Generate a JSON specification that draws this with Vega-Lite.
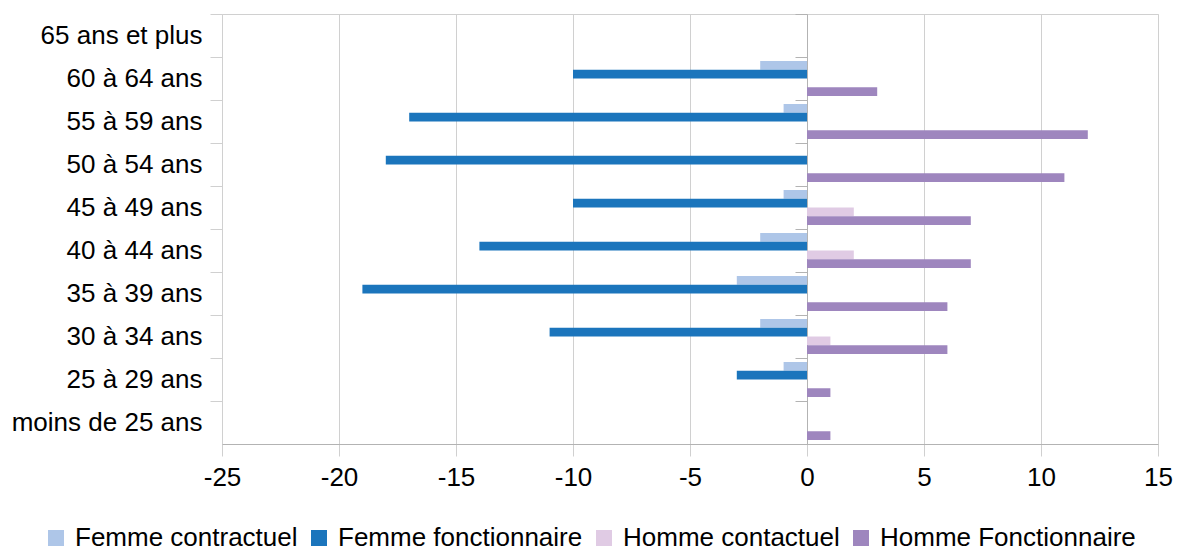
{
  "$schema": "https://vega.github.io/schema/vega-lite/v6.json",
  "width": 936,
  "height": 430,
  "autosize": {"type": "none"},
  "padding": {"left": 222, "top": 14, "right": 25, "bottom": 108},
  "background": "white",
  "config": {
    "font": "Liberation Sans",
    "view": {"stroke": "#d0d0d0"}
  },
  "data": {
    "values": [
      {"age": "65 ans et plus", "serie": "Femme contractuel", "valeur": 0},
      {"age": "65 ans et plus", "serie": "Femme fonctionnaire", "valeur": 0},
      {"age": "65 ans et plus", "serie": "Homme contactuel", "valeur": 0},
      {"age": "65 ans et plus", "serie": "Homme Fonctionnaire", "valeur": 0},
      {"age": "60 à 64 ans", "serie": "Femme contractuel", "valeur": -2},
      {"age": "60 à 64 ans", "serie": "Femme fonctionnaire", "valeur": -10},
      {"age": "60 à 64 ans", "serie": "Homme contactuel", "valeur": 0},
      {"age": "60 à 64 ans", "serie": "Homme Fonctionnaire", "valeur": 3},
      {"age": "55 à 59 ans", "serie": "Femme contractuel", "valeur": -1},
      {"age": "55 à 59 ans", "serie": "Femme fonctionnaire", "valeur": -17},
      {"age": "55 à 59 ans", "serie": "Homme contactuel", "valeur": 0},
      {"age": "55 à 59 ans", "serie": "Homme Fonctionnaire", "valeur": 12},
      {"age": "50 à 54 ans", "serie": "Femme contractuel", "valeur": 0},
      {"age": "50 à 54 ans", "serie": "Femme fonctionnaire", "valeur": -18},
      {"age": "50 à 54 ans", "serie": "Homme contactuel", "valeur": 0},
      {"age": "50 à 54 ans", "serie": "Homme Fonctionnaire", "valeur": 11},
      {"age": "45 à 49 ans", "serie": "Femme contractuel", "valeur": -1},
      {"age": "45 à 49 ans", "serie": "Femme fonctionnaire", "valeur": -10},
      {"age": "45 à 49 ans", "serie": "Homme contactuel", "valeur": 2},
      {"age": "45 à 49 ans", "serie": "Homme Fonctionnaire", "valeur": 7},
      {"age": "40 à 44 ans", "serie": "Femme contractuel", "valeur": -2},
      {"age": "40 à 44 ans", "serie": "Femme fonctionnaire", "valeur": -14},
      {"age": "40 à 44 ans", "serie": "Homme contactuel", "valeur": 2},
      {"age": "40 à 44 ans", "serie": "Homme Fonctionnaire", "valeur": 7},
      {"age": "35 à 39 ans", "serie": "Femme contractuel", "valeur": -3},
      {"age": "35 à 39 ans", "serie": "Femme fonctionnaire", "valeur": -19},
      {"age": "35 à 39 ans", "serie": "Homme contactuel", "valeur": 0},
      {"age": "35 à 39 ans", "serie": "Homme Fonctionnaire", "valeur": 6},
      {"age": "30 à 34 ans", "serie": "Femme contractuel", "valeur": -2},
      {"age": "30 à 34 ans", "serie": "Femme fonctionnaire", "valeur": -11},
      {"age": "30 à 34 ans", "serie": "Homme contactuel", "valeur": 1},
      {"age": "30 à 34 ans", "serie": "Homme Fonctionnaire", "valeur": 6},
      {"age": "25 à 29 ans", "serie": "Femme contractuel", "valeur": -1},
      {"age": "25 à 29 ans", "serie": "Femme fonctionnaire", "valeur": -3},
      {"age": "25 à 29 ans", "serie": "Homme contactuel", "valeur": 0},
      {"age": "25 à 29 ans", "serie": "Homme Fonctionnaire", "valeur": 1},
      {"age": "moins de 25 ans", "serie": "Femme contractuel", "valeur": 0},
      {"age": "moins de 25 ans", "serie": "Femme fonctionnaire", "valeur": 0},
      {"age": "moins de 25 ans", "serie": "Homme contactuel", "valeur": 0},
      {"age": "moins de 25 ans", "serie": "Homme Fonctionnaire", "valeur": 1}
    ]
  },
  "resolve": {"axis": {"y": "independent"}},
  "layer": [
    {
      "mark": {"type": "bar"},
      "encoding": {
        "y": {
          "field": "age",
          "type": "nominal",
          "sort": ["65 ans et plus", "60 à 64 ans", "55 à 59 ans", "50 à 54 ans", "45 à 49 ans", "40 à 44 ans", "35 à 39 ans", "30 à 34 ans", "25 à 29 ans", "moins de 25 ans"],
          "scale": {"paddingInner": 0, "paddingOuter": 0},
          "axis": {
            "title": null,
            "orient": "left",
            "bandPosition": 0,
            "labelOffset": 0,
            "tickSize": 12,
            "tickColor": "#d0d0d0",
            "domain": false,
            "grid": false,
            "labelFontSize": 26,
            "labelColor": "#000000",
            "labelPadding": 8,
            "labelFont": "Liberation Sans",
            "labelLimit": 300
          }
        },
        "yOffset": {
          "field": "serie",
          "type": "nominal",
          "sort": ["Femme contractuel", "Femme fonctionnaire", "Homme contactuel", "Homme Fonctionnaire"],
          "scale": {"paddingInner": 0, "paddingOuter": 0.457}
        },
        "x": {
          "field": "valeur",
          "type": "quantitative",
          "scale": {"domain": [-25, 15], "nice": false, "zero": false},
          "axis": {
            "title": null,
            "values": [-25, -20, -15, -10, -5, 0, 5, 10, 15],
            "labelExpr": "'' + datum.value",
            "labelFlush": false,
            "grid": true,
            "gridColor": "#d0d0d0",
            "domainColor": "#b3b3b3",
            "tickColor": "#d0d0d0",
            "tickSize": 12,
            "labelFontSize": 26,
            "labelColor": "#000000",
            "labelPadding": 8,
            "labelFont": "Liberation Sans"
          }
        },
        "color": {
          "field": "serie",
          "type": "nominal",
          "sort": ["Femme contractuel", "Femme fonctionnaire", "Homme contactuel", "Homme Fonctionnaire"],
          "scale": {
            "domain": ["Femme contractuel", "Femme fonctionnaire", "Homme contactuel", "Homme Fonctionnaire"],
            "range": ["#aec6e8", "#1b75bc", "#e0cbe4", "#9e86be"]
          },
          "legend": {
            "title": null,
            "orient": "none",
            "direction": "horizontal",
            "legendX": -179,
            "legendY": 511,
            "symbolType": "square",
            "symbolSize": 256,
            "symbolStrokeWidth": 0,
            "symbolOpacity": 1,
            "labelFontSize": 26,
            "labelColor": "#000000",
            "labelOffset": 6,
            "columnPadding": 8,
            "labelFont": "Liberation Sans",
            "labelLimit": 400
          }
        }
      }
    },
    {
      "mark": {"type": "bar", "opacity": 0},
      "encoding": {
        "y": {
          "field": "age",
          "type": "nominal",
          "sort": ["65 ans et plus", "60 à 64 ans", "55 à 59 ans", "50 à 54 ans", "45 à 49 ans", "40 à 44 ans", "35 à 39 ans", "30 à 34 ans", "25 à 29 ans", "moins de 25 ans"],
          "axis": {
            "title": null,
            "orient": "left",
            "offset": -585,
            "labels": false,
            "bandPosition": 0,
            "tickSize": 12,
            "tickColor": "#b3b3b3",
            "domainColor": "#b3b3b3",
            "grid": false
          }
        },
        "x": {"datum": 0, "type": "quantitative", "axis": {"title": null}}
      }
    }
  ]
}
